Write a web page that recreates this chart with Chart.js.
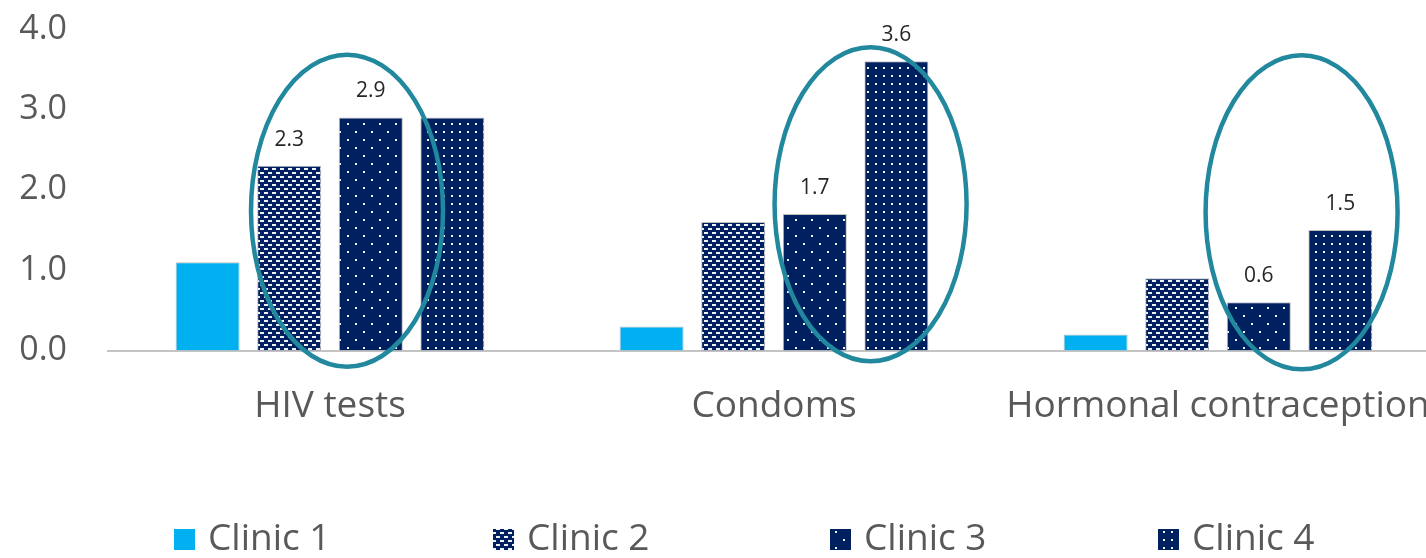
<!DOCTYPE html>
<html>
<head>
<meta charset="utf-8">
<script src="https://cdn.jsdelivr.net/npm/chart.js"></script>
<style>
  html, body { margin: 0; padding: 0; background: #fff; overflow: hidden; }
  #cadre { width: 1440px; height: 558px; }
</style>
</head>
<body>
<div id="cadre"><canvas id="graphique" width="1440" height="558"></canvas></div>
<script>

const categories = ['HIV tests', 'Condoms', 'Hormonal contraception'];
const cliniques = ['Clinic 1', 'Clinic 2', 'Clinic 3', 'Clinic 4'];
const clinic1 = [1.1, 0.3, 0.2];
const clinic2 = [2.3, 1.6, 0.9];
const clinic3 = [2.9, 1.7, 0.6];
const clinic4 = [2.9, 3.6, 1.5];
const yTicks = [0, 1, 2, 3, 4];
// bars that are circled and labelled, per category (clinic index)
const entoures = [[1, 2], [2, 3], [2, 3]];

const canvas = document.querySelector('#graphique');
const ctxPrincipal = canvas.getContext('2d');

const bleuNuit = '#002060';

function motif(largeur, hauteur, dessin) {
    const c = document.createElement('canvas');
    c.width = largeur;
    c.height = hauteur;
    const ctx = c.getContext('2d');
    ctx.fillStyle = bleuNuit;
    ctx.fillRect(0, 0, largeur, hauteur);
    ctx.fillStyle = '#eef1f8';
    dessin(ctx);
    return ctxPrincipal.createPattern(c, 'repeat');
}

const motifBriques = motif(8, 8, (ctx) => {
    ctx.fillRect(0, 0, 4, 2);
    ctx.fillRect(4, 4, 4, 2);
});

const motifPoints = motif(16, 16, (ctx) => {
    ctx.fillRect(3, 3, 2, 2);
    ctx.fillRect(11, 11, 2, 2);
});

const motifPointsDenses = motif(8, 8, (ctx) => {
    ctx.fillRect(3, 3, 2, 2);
});

// ellipse annotations around the circled bars
const ovales = [
    { dx: 17, centreY: 1.74, rx: 96, ry: 156 },
    { dx: 15, centreY: 1.82, rx: 96, ry: 157 },
    { dx: 2, centreY: 1.72, rx: 96, ry: 157 }
];

const pluginOvales = {
    id: 'ovales',
    afterDatasetsDraw(chart) {
        const ctx = chart.ctx;
        const echelleY = chart.scales.y;
        ctx.save();
        ctx.strokeStyle = '#21889E';
        ctx.lineWidth = 4.5;
        entoures.forEach((paire, k) => {
            const a = chart.getDatasetMeta(paire[0]).data[k];
            const b = chart.getDatasetMeta(paire[1]).data[k];
            const o = ovales[k];
            const cx = (a.x + b.x) / 2 + o.dx;
            const cy = echelleY.getPixelForValue(o.centreY);
            ctx.beginPath();
            ctx.ellipse(cx, cy, o.rx, o.ry, 0, 0, Math.PI * 2);
            ctx.stroke();
        });
        ctx.restore();
    }
};

const pluginEtiquettes = {
    id: 'etiquettes',
    afterDatasetsDraw(chart) {
        const ctx = chart.ctx;
        ctx.save();
        ctx.font = '21px "Open Sans"';
        ctx.fillStyle = '#262626';
        ctx.textAlign = 'center';
        ctx.textBaseline = 'middle';
        entoures.forEach((paire, k) => {
            paire.forEach((i) => {
                const barre = chart.getDatasetMeta(i).data[k];
                const valeur = chart.data.datasets[i].data[k];
                ctx.fillText(valeur.toFixed(1), barre.x, barre.y - 26);
            });
        });
        ctx.restore();
    }
};

const pluginLegende = {
    id: 'legende',
    afterDraw(chart) {
        const ctx = chart.ctx;
        const positions = [174, 493, 830, 1158];
        const y = 539;
        ctx.save();
        ctx.font = '37px "Open Sans"';
        ctx.textBaseline = 'middle';
        chart.data.datasets.forEach((ds, i) => {
            const x = positions[i];
            ctx.fillStyle = ds.backgroundColor;
            ctx.fillRect(x, y - 10, 21, 21);
            ctx.fillStyle = '#595959';
            ctx.fillText(ds.label, x + 34, y);
        });
        ctx.restore();
    }
};

new Chart(canvas, {

    type: 'bar',
    data: {
        labels: categories,
        datasets: [
            { label: cliniques[0], data: clinic1, backgroundColor: '#00B0F0' },
            { label: cliniques[1], data: clinic2, backgroundColor: motifBriques },
            { label: cliniques[2], data: clinic3, backgroundColor: motifPoints },
            { label: cliniques[3], data: clinic4, backgroundColor: motifPointsDenses }
        ]
    },
    options: {
        responsive: false,
        animation: false,
        layout: {
            padding: { top: 29, bottom: 95, left: 0, right: 0 }
        },
        datasets: {
            bar: {
                categoryPercentage: 0.735,
                barPercentage: 0.785,
                borderWidth: 1,
                borderColor: '#c0c0c0'
            }
        },
        plugins: {
            legend: { display: false },
            tooltip: { enabled: false }
        },
        scales: {
            x: {
                grid: { display: false, drawTicks: false },
                border: { color: '#c4c4c4', width: 2 },
                afterFit: (echelle) => {
                    echelle.paddingLeft = 0;
                    echelle.paddingRight = 0;
                },
                ticks: {
                    padding: 34,
                    maxRotation: 0,
                    color: '#595959',
                    font: { family: 'Open Sans', size: 37 }
                }
            },
            y: {
                min: 0,
                max: 4,
                grid: { display: false, drawTicks: false },
                border: { display: false },
                afterBuildTicks: (echelle) => {
                    echelle.ticks = yTicks.map((v) => ({ value: v }));
                },
                afterFit: (echelle) => {
                    echelle.width = 108;
                    echelle.paddingTop = 0;
                    echelle.paddingBottom = 0;
                },
                ticks: {
                    padding: 41,
                    color: '#595959',
                    font: { family: 'Open Sans', size: 34 },
                    callback: (v) => Number(v).toFixed(1)
                }
            }
        }
    },
    plugins: [pluginOvales, pluginEtiquettes, pluginLegende]

});

</script>
</body>
</html>
